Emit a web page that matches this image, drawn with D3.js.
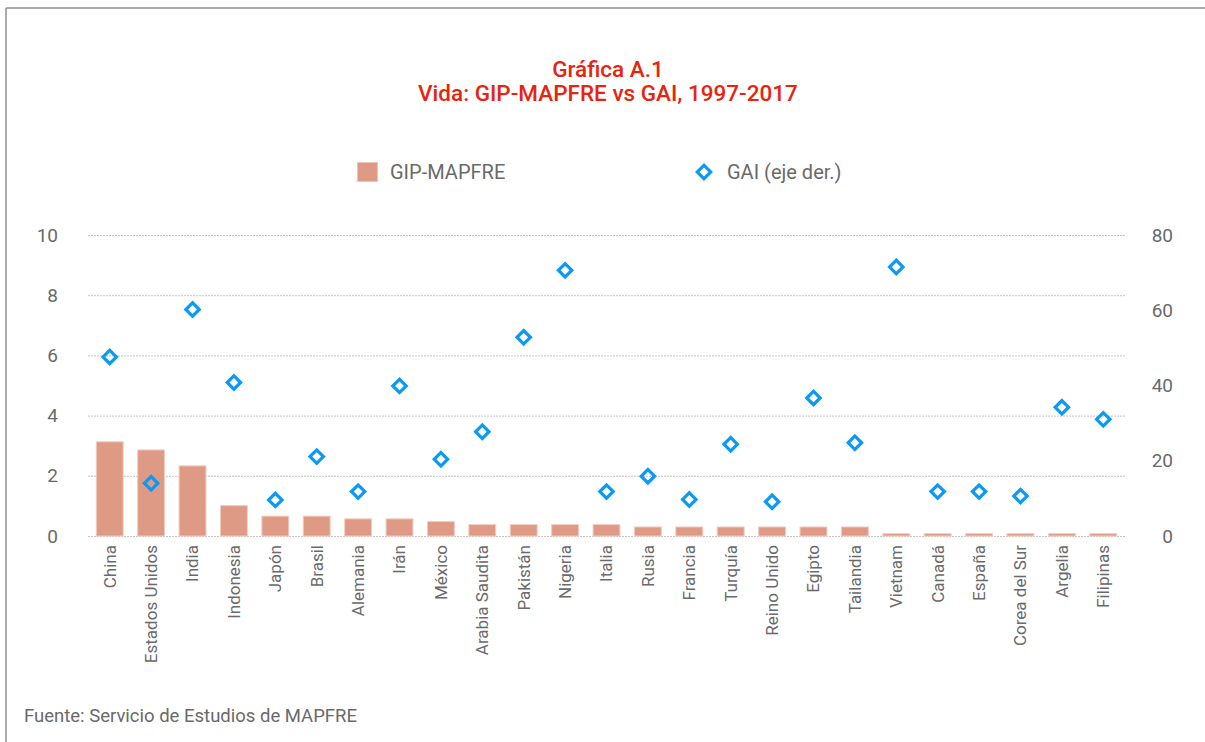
<!DOCTYPE html>
<html>
<head>
<meta charset="utf-8">
<script src="https://cdn.jsdelivr.net/npm/d3@7"></script>
<style>
  body { margin: 0; background: #fff; }
  svg { display: block; font-family: Roboto, "DejaVu Sans", sans-serif; }
</style>
</head>
<body>
<div id="chart"></div>
<script>
// datos
var paises = ["China", "Estados Unidos", "India", "Indonesia", "Japón", "Brasil", "Alemania", "Irán",
  "México", "Arabia Saudita", "Pakistán", "Nigeria", "Italia", "Rusia", "Francia", "Turquía",
  "Reino Unido", "Egipto", "Tailandia", "Vietnam", "Canadá", "España", "Corea del Sur", "Argelia", "Filipinas"];
var gip = [3.13, 2.86, 2.33, 1.01, 0.66, 0.66, 0.57, 0.57, 0.48, 0.38, 0.38, 0.38, 0.38, 0.3, 0.3, 0.3,
  0.3, 0.3, 0.3, 0.08, 0.08, 0.08, 0.08, 0.08, 0.08];
var gai = [47.6, 14.0, 60.2, 40.8, 9.6, 21.1, 11.8, 39.9, 20.4, 27.7, 52.8, 70.6, 11.8, 15.9, 9.7, 24.4,
  9.1, 36.7, 24.8, 71.5, 11.8, 11.8, 10.6, 34.2, 31.0];
var ticksIzq = [0, 2, 4, 6, 8, 10];
var ticksDer = [0, 20, 40, 60, 80];

var W = 1205, H = 742;
var margin = { top: 235, left: 88, right: 80, bottom: 206 };
var gris = "#6a6a6a";

var svg = d3.select("#chart").append("svg")
  .attr("width", W)
  .attr("height", H);

// marco
svg.append("line").attr("x1", 6).attr("y1", 8).attr("x2", W).attr("y2", 8)
  .attr("stroke", "#8f8f8f").attr("stroke-width", 1.5);
svg.append("line").attr("x1", 6).attr("y1", 8).attr("x2", 6).attr("y2", H)
  .attr("stroke", "#8f8f8f").attr("stroke-width", 1.5);

// titulo
svg.append("text").attr("x", 608).attr("y", 77).attr("text-anchor", "middle")
  .attr("fill", "#e8240f").attr("font-size", 22.5).attr("font-weight", 500)
  .text("Gráfica A.1");
svg.append("text").attr("x", 608).attr("y", 101).attr("text-anchor", "middle")
  .attr("fill", "#e8240f").attr("font-size", 22.5).attr("font-weight", 500)
  .text("Vida: GIP-MAPFRE vs GAI, 1997-2017");

// leyenda
svg.append("rect").attr("x", 357.5).attr("y", 162.5).attr("width", 20).attr("height", 19)
  .attr("fill", "#de9a84").attr("stroke", "#f0c4b6").attr("stroke-width", 1);
svg.append("text").attr("x", 390).attr("y", 179).attr("fill", gris).attr("font-size", 20)
  .text("GIP-MAPFRE");
svg.append("path").attr("d", d3.symbol().type(d3.symbolSquare).size(90)())
  .attr("transform", "translate(704,172) rotate(45)")
  .attr("fill", "none").attr("stroke", "#0b99f6").attr("stroke-width", 3.2);
svg.append("text").attr("x", 727).attr("y", 179).attr("fill", gris).attr("font-size", 20)
  .text("GAI (eje der.)");

var x = d3.scaleBand()
  .domain(paises)
  .range([margin.left, 1125])
  .paddingInner(0.35)
  .paddingOuter(0.2);

var yIzq = d3.scaleLinear().domain([0, 10]).range([536, 235]);
var yDer = d3.scaleLinear().domain([0, 80]).range([536, 235]);

// rejilla
svg.append("g").selectAll("line")
  .data(ticksIzq)
  .enter().append("line")
  .attr("x1", margin.left).attr("x2", 1125)
  .attr("y1", d => yIzq(d) + 0.5).attr("y2", d => yIzq(d) + 0.5)
  .attr("stroke", "#c4c4c4").attr("stroke-width", 1)
  .attr("stroke-dasharray", "2,1");

// ejes
var ejeIzq = svg.append("g")
  .attr("transform", "translate(58,0)")
  .call(d3.axisLeft(yIzq).tickValues(ticksIzq).tickSize(0).tickPadding(0));
var ejeDer = svg.append("g")
  .attr("transform", "translate(1173,0)")
  .call(d3.axisLeft(yDer).tickValues(ticksDer).tickSize(0).tickPadding(0));
[ejeIzq, ejeDer].forEach(function (g) {
  g.select(".domain").remove();
  g.selectAll("text").attr("fill", gris).attr("font-size", 19).attr("font-family", "Roboto, sans-serif");
});

// barras
svg.append("g").selectAll("rect")
  .data(gip)
  .enter().append("rect")
  .attr("x", (d, i) => x(paises[i]))
  .attr("y", d => yIzq(d))
  .attr("width", x.bandwidth())
  .attr("height", d => yIzq(0) - yIzq(d))
  .attr("fill", "#de9a84")
  .attr("stroke", "#f3cdc1")
  .attr("stroke-width", 1);

// rombos GAI
svg.append("g").selectAll("path")
  .data(gai)
  .enter().append("path")
  .attr("d", d3.symbol().type(d3.symbolSquare).size(90)())
  .attr("transform", (d, i) => "translate(" + (x(paises[i]) + x.bandwidth() / 2) + "," + yDer(d) + ") rotate(45)")
  .attr("fill", "none")
  .attr("stroke", "#0b99f6")
  .attr("stroke-width", 3.2);

// etiquetas eje x
var ejeX = svg.append("g")
  .attr("transform", "translate(0,545)")
  .call(d3.axisBottom(x).tickSize(0).tickPadding(0));
ejeX.select(".domain").remove();
ejeX.selectAll("text")
  .attr("fill", gris)
  .attr("font-size", 17)
  .attr("font-family", "Roboto, sans-serif")
  .attr("text-anchor", "end")
  .attr("dy", "0.35em")
  .attr("transform", "rotate(-90)")
  .attr("x", 0)
  .attr("y", 0);

// fuente
svg.append("text").attr("x", 24).attr("y", 722).attr("fill", gris).attr("font-size", 18.5)
  .text("Fuente: Servicio de Estudios de MAPFRE");
</script>
</body>
</html>
